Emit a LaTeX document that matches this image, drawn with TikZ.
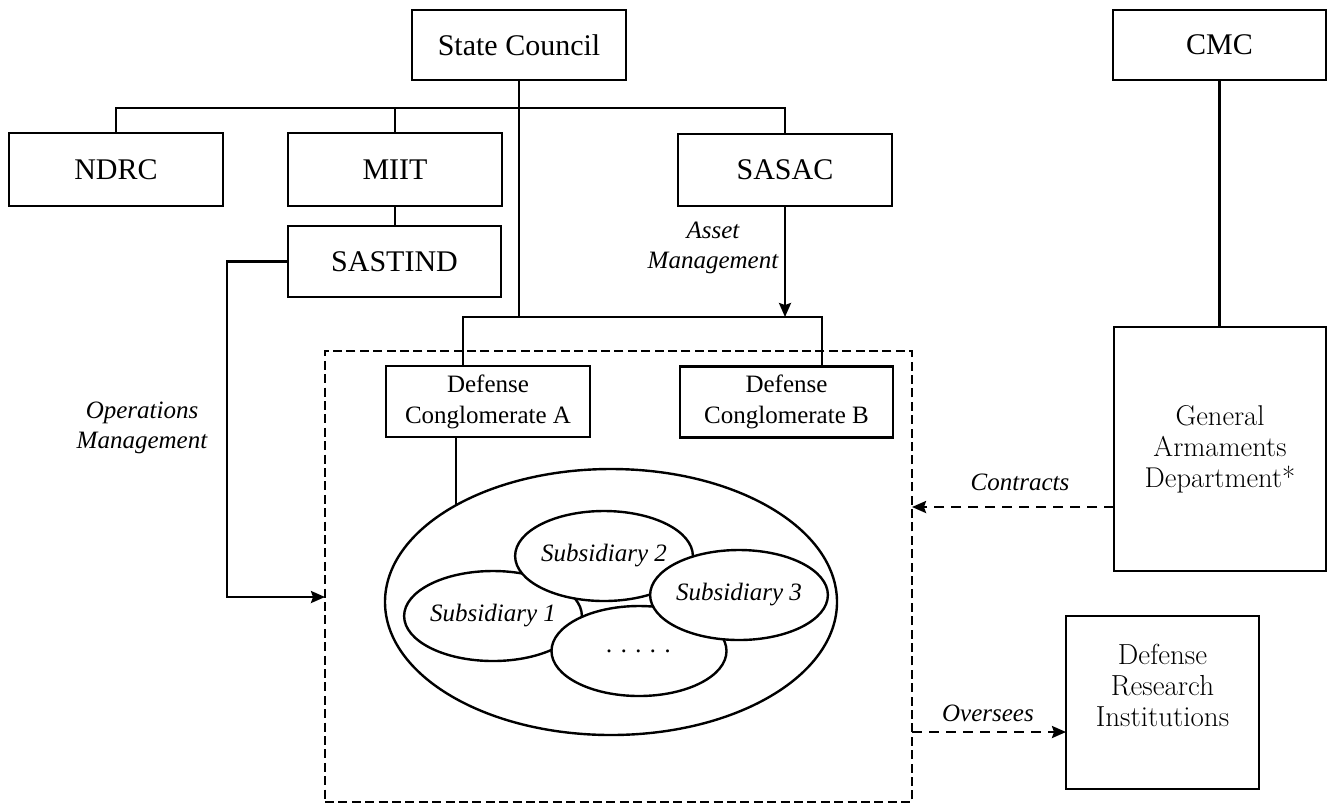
\documentclass[tikz,border=0pt]{standalone}
\usepackage{fontspec}
\setmainfont{Liberation Serif}
\newfontfamily\rcolfont{Latin Modern Roman}
\usetikzlibrary{arrows.meta,shapes.geometric}
\begin{document}
\begin{tikzpicture}[x=0.5pt,y=-0.5pt,
  every node/.style={inner sep=0pt, outer sep=0pt},
  ln/.style={line width=1.2pt},
  box/.style={draw, line width=1.2pt, fill=white, align=center, font=\fontsize{15}{16}\selectfont},
  cbox/.style={box, font=\fontsize{12.5}{15.5}\selectfont},
  bigbox/.style={box, font=\rcolfont\fontsize{14.3}{15.5}\selectfont},
  ell/.style={draw, ellipse, line width=1.2pt, fill=white, minimum width=87.5pt, minimum height=45pt, font=\fontsize{12.5}{15}\selectfont\itshape},
  lbl/.style={align=center, font=\fontsize{12.5}{15}\selectfont\itshape},
  arr/.style={line width=1.2pt, -{Stealth[length=7pt,width=6pt,inset=1pt]}},
  darr/.style={arr, dash pattern=on 5pt off 3.5pt},
  dbx/.style={draw, line width=1.2pt, dash pattern=on 4.5pt off 2.2pt, minimum width=293.5pt, minimum height=225.5pt}
]
\useasboundingbox (0,0) rectangle (1328,805);

% dashed enclosure
\node[dbx] (dbox) at (618.5,576.5) {};

% top row
\node[box, minimum width=107pt, minimum height=35pt] (sc) at (519,45) {State Council};
\node[box, minimum width=106.5pt, minimum height=35pt] (cmc) at (1219.5,45) {CMC};

% second row
\node[box, minimum width=107pt, minimum height=36.5pt] (ndrc) at (116,169.5) {NDRC};
\node[box, minimum width=107pt, minimum height=36.5pt] (miit) at (395,169.5) {MIIT};
\node[box, minimum width=107pt, minimum height=36pt] (sasac) at (785,170) {SASAC};
\node[box, minimum width=106.5pt, minimum height=35.5pt] (sastind) at (394.5,261.5) {SASTIND};

% conglomerates
\node[cbox, minimum width=102pt, minimum height=35.5pt] (conA) at (488,401.5) {Defense\\Conglomerate A};
\node[cbox, minimum width=106.5pt, minimum height=35.5pt] (conB) at (786.5,402) {Defense\\Conglomerate B};

% right column
\node[bigbox, minimum width=106pt, minimum height=122pt] (gad) at (1220,449) {General\\Armaments\\Department*};
\node[box, minimum width=96.5pt, minimum height=86.5pt] (dri) at (1162.5,702.5) {};
\node[align=center, font=\rcolfont\fontsize{14.5}{15.5}\selectfont] (driT) at (1162.5,685) {Defense\\Research\\Institutions};

% coordinates
\coordinate (busy) at (0,108);
\coordinate (hA) at (463,317);
\coordinate (hB) at (822,317);
\coordinate (opc) at (227,597);
\coordinate (cy) at (0,507);
\coordinate (oy) at (0,732);

% bus from State Council
\draw[ln] (ndrc.north) -- (ndrc.north |- busy) -- (sasac.north |- busy) -- (sasac.north);
\draw[ln] (miit.north) -- (miit.north |- busy);
\draw[ln] (sc.south) -- (sc.south |- hA);
\draw[ln] (miit.south) -- (sastind.north -| miit.south);

% to conglomerates
\draw[ln] (conA.north -| hA) -- (hA) -- (hB) -- (conB.north -| hB);
\draw[arr] (sasac.south) -- (sasac.south |- hA);

% CMC to GAD
\draw[ln] (cmc.south) -- (gad.north -| cmc.south);

% operations management
\draw[arr] (sastind.west) -| (opc) -- (opc -| dbox.west);

% contracts and oversees
\draw[darr] (gad.west |- cy) -- (dbox.east |- cy);
\draw[darr] (dbox.east |- oy) -- (dri.west |- oy);

% big ellipse and subsidiaries
\node[draw, ellipse, line width=1.2pt, fill=white, minimum width=226pt, minimum height=133pt] (bigE) at (611,602) {};
\draw[ln] (conA.south -| bigE.148.4) -- (bigE.148.4);
\node[ell] (sub1) at (493,616) {Subsidiary 1};
\node[ell] (sub2) at (604,556) {Subsidiary 2};
\node[ell] (dots) at (639,651) {.\,\,.\,\,.\,\,.\,\,.};
\node[ell] (sub3) at (739,595) {Subsidiary 3};

% labels
\node[lbl] (opl) at (142,428) {Operations\\Management};
\node[lbl] (asl) at (713,248) {Asset\\Management};
\node[lbl] (ctl) at (1020,482) {Contracts};
\node[lbl] (ovl) at (988,713) {Oversees};
\end{tikzpicture}
\end{document}
